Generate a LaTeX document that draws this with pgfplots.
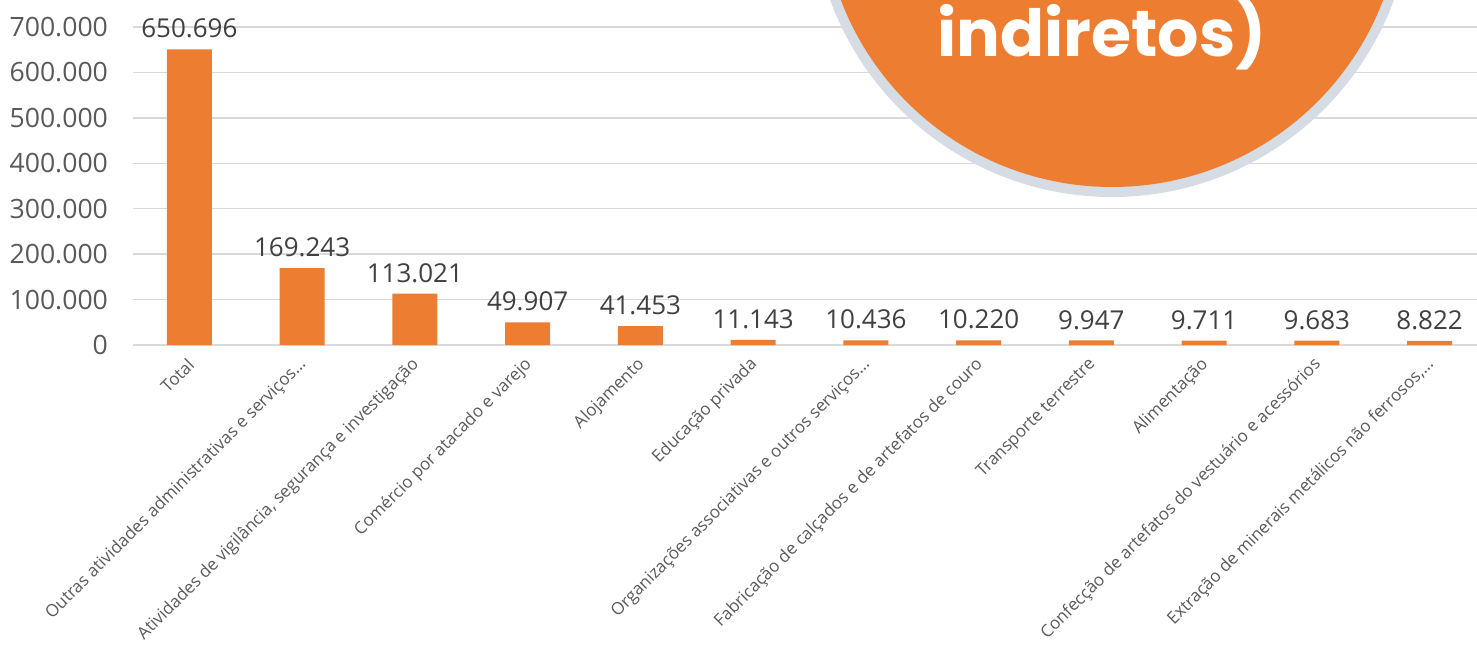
\documentclass[border=0pt]{standalone}
\usepackage{fontspec}
\setmainfont{Open Sans}
\newfontfamily\popfont{Poppins}
\usepackage{pgfplots}
\pgfplotsset{compat=1.18}
\definecolor{barorange}{HTML}{ED7D31}
\definecolor{ringgray}{HTML}{D6DCE4}
\definecolor{gridgray}{HTML}{D9D9D9}
\definecolor{ticktext}{HTML}{595959}
\definecolor{labeltext}{HTML}{404040}
\begin{document}
\begin{tikzpicture}
\useasboundingbox (0,0) rectangle (738.5pt,325pt);
\clip (0,0) rectangle (738.5pt,325pt);
\begin{axis}[
  at={(66.5pt,152.5pt)}, anchor=south west,
  scale only axis, width=676.5pt, height=159pt,
  xmin=-0.5, xmax=11.5, ymin=0, ymax=700000,
  ybar, bar width=22.5pt,
  axis line style={draw=none},
  major tick length=0pt,
  ymajorgrids, grid style={gridgray, line width=0.75pt},
  ytick={0,100000,200000,300000,400000,500000,600000,700000},
  scaled y ticks=false,
  /pgf/number format/.cd, fixed, precision=0, 1000 sep={.}, assume math mode=true,
  /pgfplots/.cd,
  yticklabel style={font=\fontsize{13.3}{15}\selectfont, text=ticktext, xshift=-9pt},
  xtick=data,
  xticklabels={Total,
    Outras atividades administrativas e serviços…,
    {Atividades de vigilância, segurança e investigação},
    Comércio por atacado e varejo,
    Alojamento,
    Educação privada,
    Organizações associativas e outros serviços…,
    Fabricação de calçados e de artefatos de couro,
    Transporte terrestre,
    Alimentação,
    Confecção de artefatos do vestuário e acessórios,
    {Extração de minerais metálicos não ferrosos,…}},
  xticklabel style={font=\fontsize{8.5}{10}\selectfont, text=ticktext, xshift=3.2pt, yshift=-6pt, rotate=45, anchor=east},
  nodes near coords,
  nodes near coords style={font=\fontsize{13}{15}\selectfont, text=labeltext, anchor=south, yshift=2pt},
]
\addplot[fill=barorange, draw=none] coordinates {
(0,650696) (1,169243) (2,113021) (3,49907) (4,41453) (5,11143)
(6,10436) (7,10220) (8,9947) (9,9711) (10,9683) (11,8822)};
\end{axis}
\fill[ringgray] (556pt,376.5pt) circle (150pt);
\fill[barorange] (556pt,376.5pt) circle (145pt);
\node[anchor=base, text=white, inner sep=0pt, font=\popfont\bfseries\fontsize{32.5}{36}\selectfont] at (551pt,297pt) {indiretos)};
\end{tikzpicture}
\end{document}
